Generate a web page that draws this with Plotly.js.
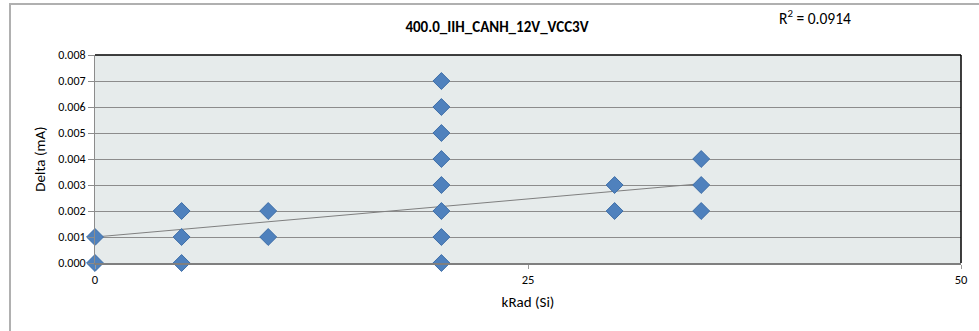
<!DOCTYPE html>
<html>
<head>
<meta charset="utf-8">
<script src="https://cdn.plot.ly/plotly-3.0.1.min.js"></script>
<style>html,body{margin:0;padding:0;background:#fff;}#chart{width:979px;height:331px;}</style>
</head>
<body>
<div id="chart"></div>
<script>
// Data
const kradX = [0, 0, 5, 5, 5, 10, 10, 20, 20, 20, 20, 20, 20, 20, 20, 30, 30, 35, 35, 35];
const deltaY = [0.000, 0.001, 0.000, 0.001, 0.002, 0.001, 0.002,
                0.000, 0.001, 0.002, 0.003, 0.004, 0.005, 0.006, 0.007,
                0.002, 0.003, 0.002, 0.003, 0.004];
const trendX = [0, 35];
const trendY = [0.00100, 0.00305];
const xTicks = [0, 25, 50];
const yTicks = [0, 0.001, 0.002, 0.003, 0.004, 0.005, 0.006, 0.007, 0.008];
const chartTitle = '400.0_IIH_CANH_12V_VCC3V';
const r2Label = 'R<sup>2</sup> = 0.0914';

const font = "Carlito, 'Liberation Sans Narrow', 'Liberation Sans', Arial, sans-serif";

const traces = [
  {
    x: trendX, y: trendY, type: 'scatter', mode: 'lines',
    line: {color: '#7f7f7f', width: 1}, hoverinfo: 'skip', showlegend: false
  },
  {
    x: kradX, y: deltaY, type: 'scatter', mode: 'markers',
    marker: {symbol: 'diamond', size: 13, color: '#4f81bd', line: {color: '#3f6fa8', width: 1}},
    showlegend: false, cliponaxis: false
  }
];

const layout = {
  width: 979, height: 331,
  margin: {l: 95, r: 18, t: 55, b: 68},
  paper_bgcolor: '#ffffff',
  plot_bgcolor: '#e6ebeb',
  font: {family: font, size: 12, color: '#000'},
  title: {text: '<b>' + chartTitle + '</b>', x: (497 - 95) / 866, xref: 'paper', xanchor: 'center',
          y: 1 - 27/331, yanchor: 'middle',
          font: {family: font, size: 15, color: '#000'}},
  xaxis: {
    range: [0, 50], tickvals: xTicks, ticktext: xTicks.map(String),
    showgrid: false, zeroline: false,
    showline: true, linecolor: '#7f7f7f', linewidth: 2,
    ticks: 'outside', ticklen: 4, tickcolor: '#9a9a9a',
    tickfont: {size: 12.5},
    title: {text: 'kRad (Si)', font: {size: 15}, standoff: 10}
  },
  yaxis: {
    range: [0, 0.008], tickvals: yTicks, ticktext: yTicks.map(v => v.toFixed(3)),
    showgrid: true, gridcolor: '#8c8c8c', gridwidth: 1,
    zeroline: false, showline: true, linecolor: '#8c8c8c', linewidth: 1,
    ticks: 'outside', ticklen: 6, tickcolor: '#8c8c8c',
    tickfont: {size: 12},
    title: {text: 'Delta (mA)', font: {size: 15}, standoff: 8}
  },
  shapes: [
    {type: 'line', xref: 'paper', yref: 'paper', x0: 0, x1: 1, y0: 1, y1: 1, line: {color: '#000', width: 1.5}},
    {type: 'line', xref: 'paper', yref: 'paper', x0: 1, x1: 1, y0: 0, y1: 1, line: {color: '#000', width: 1.5}},
    {type: 'rect', xref: 'paper', yref: 'paper', x0: (10 - 95) / 866, x1: 1.2, y0: -1, y1: (263 - 4) / 208,
     line: {color: '#b0b0b0', width: 2}, layer: 'below'}
  ],
  annotations: [
    {text: r2Label, xref: 'paper', yref: 'paper', x: (815 - 95) / 866, y: (263 - 18) / 208,
     xanchor: 'center', yanchor: 'middle', showarrow: false, font: {size: 15.5, color: '#000'}}
  ]
};

Plotly.newPlot('chart', traces, layout, {displayModeBar: false, staticPlot: true});
</script>
</body>
</html>
